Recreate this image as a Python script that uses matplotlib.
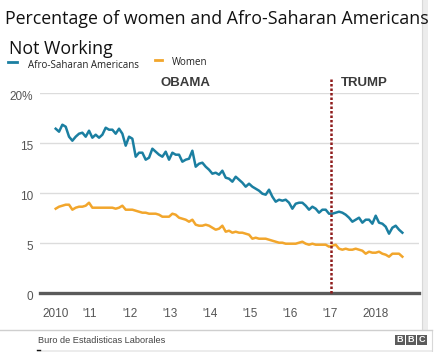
import matplotlib
matplotlib.use("Agg")
import matplotlib.pyplot as plt
import matplotlib.transforms as mtransforms
from matplotlib.lines import Line2D
from matplotlib.patches import Rectangle
import pandas as pd

# ---------------- data ----------------
months = pd.date_range("2010-02-01", periods=105, freq="MS")
afro = [16.4, 16.1, 16.8, 16.6, 15.6, 15.2, 15.6, 15.9, 16.0, 15.6,
        16.2, 15.5, 15.8, 15.5, 15.8, 16.5, 16.3, 16.3, 15.9, 16.4,
        15.9, 14.7, 15.6, 15.4, 13.6, 14.0, 14.0, 13.3, 13.5, 14.4,
        14.1, 13.8, 13.6, 14.1, 13.3, 14.0, 13.8, 13.8, 13.1, 13.3,
        13.4, 14.2, 12.6, 12.9, 13.0, 12.6, 12.3, 11.9, 12.0, 11.8,
        12.2, 11.5, 11.4, 11.1, 11.6, 11.3, 11.0, 10.6, 10.9, 10.6,
        10.4, 10.2, 9.9, 9.8, 10.3, 9.6, 9.1, 9.3, 9.2, 9.3,
        9.0, 8.4, 8.9, 9.0, 9.0, 8.7, 8.3, 8.6, 8.4, 8.0,
        8.3, 8.3, 7.9, 7.9, 8.0, 8.1, 8.0, 7.8, 7.5, 7.1,
        7.3, 7.5, 7.0, 7.3, 7.3, 6.9, 7.7, 7.0, 6.9, 6.6,
        5.9, 6.5, 6.7, 6.3, 6.0]
women = [8.4, 8.6, 8.7, 8.8, 8.8, 8.3, 8.5, 8.6, 8.6, 8.7,
         9.0, 8.5, 8.5, 8.5, 8.5, 8.5, 8.5, 8.5, 8.4, 8.5,
         8.7, 8.3, 8.3, 8.3, 8.2, 8.1, 8.0, 8.0, 7.9, 7.9,
         7.9, 7.8, 7.6, 7.6, 7.6, 7.9, 7.8, 7.5, 7.4, 7.3,
         7.1, 7.3, 6.8, 6.7, 6.7, 6.8, 6.7, 6.5, 6.3, 6.4,
         6.7, 6.1, 6.2, 6.0, 6.1, 6.0, 6.0, 5.9, 5.8, 5.4,
         5.5, 5.4, 5.4, 5.4, 5.3, 5.2, 5.1, 5.0, 5.0, 4.9,
         4.9, 4.9, 4.9, 5.0, 5.1, 4.9, 4.8, 4.9, 4.8, 4.8,
         4.8, 4.8, 4.6, 4.7, 4.8, 4.4, 4.3, 4.4, 4.3, 4.3,
         4.4, 4.3, 4.2, 3.9, 4.1, 4.0, 4.0, 4.1, 3.9, 3.8,
         3.6, 3.9, 3.9, 3.9, 3.6]
year_ticks = [2010, 2011, 2012, 2013, 2014, 2015, 2016, 2017, 2018]
year_labels = ["2010", "'11", "'12", "'13", "'14", "'15", "'16", "'17", "2018"]
y_ticks = [0, 5, 10, 15, 20]
y_labels = ["0", "5", "10", "15", "20%"]
trump_start = 2017.0
series_names = ["Afro-Saharan Americans", "Women"]

BLUE = "#1b7fa1"
ORANGE = "#f2a62c"

x = [d.year + (d.month - 0.5) / 12 for d in months]

W, H = 435, 352
fig = plt.figure(figsize=(W / 100, H / 100), dpi=100)
fig.patch.set_facecolor("white")

def fx(px):
    return px / W

def fy(py):
    return 1 - py / H

ax = fig.add_axes([fx(40), fy(292.7), fx(419) - fx(40), fy(92.7) - fy(292.7)])
ax.set_xlim(2009.7325, 2019.2075)
ax.set_ylim(0, 20)
for s in ax.spines.values():
    s.set_visible(False)
ax.set_facecolor("none")

ax.set_yticks(y_ticks)
ax.set_yticklabels(y_labels)
ax.grid(axis="y", color="#dcdcdc", lw=1.0)
ax.set_axisbelow(True)
ax.axhline(0, color="#5a5a5a", lw=2.4, zorder=2, clip_on=False)

ax.set_xticks(year_ticks)
ax.set_xticklabels(year_labels)
ax.tick_params(axis="both", length=0, labelsize=8.5, labelcolor="#555555")
ax.tick_params(axis="y", pad=5)
ax.tick_params(axis="x", pad=11)
for lab in ax.get_yticklabels():
    lab.set_fontfamily("Liberation Sans")
    lab.set_transform(lab.get_transform() +
                      mtransforms.ScaledTranslation(0, -2.5 / 100, fig.dpi_scale_trans))
for lab in ax.get_xticklabels():
    lab.set_fontfamily("Liberation Sans")
    lab.set_horizontalalignment("left")
    lab.set_transform(lab.get_transform() +
                      mtransforms.ScaledTranslation(-8 / 100, 0, fig.dpi_scale_trans))

ax.plot(x, afro, color=BLUE, lw=1.8, zorder=3, solid_joinstyle="round")
ax.plot(x, women, color=ORANGE, lw=1.8, zorder=3, solid_joinstyle="round")

ax.axvline(trump_start, ymin=0, ymax=1.078, color="#8e1b1b", lw=1.8,
           linestyle=(0, (1, 0.8)), clip_on=False, zorder=4)

ax.text(2013.38, 21.0, "OBAMA", ha="center", va="center", fontsize=9.5,
        fontweight="bold", color="#3a3a3a", family="Liberation Sans")
ax.text(2017.83, 21.0, "TRUMP", ha="center", va="center", fontsize=9.5,
        fontweight="bold", color="#3a3a3a", family="Liberation Sans")

# titles
fig.text(fx(5), fy(23.5), "Percentage of women and Afro-Saharan Americans",
         ha="left", va="baseline", fontsize=12.8, color="#111111", family="Open Sans")
fig.text(fx(9.5), fy(54.5), "Not Working", ha="left", va="baseline",
         fontsize=12.8, color="#111111", family="Open Sans")

# legend
fig.add_artist(Line2D([fx(8), fx(17)], [fy(61.5), fy(61.5)], color=BLUE, lw=2))
fig.text(fx(28), fy(66), series_names[0], ha="left", va="center",
         fontsize=7, color="#222222", family="Open Sans")
fig.add_artist(Line2D([fx(155), fx(162)], [fy(60), fy(60)], color=ORANGE, lw=2))
fig.text(fx(172), fy(62.5), series_names[1], ha="left", va="center",
         fontsize=7, color="#222222", family="Open Sans")

# right border strip (above footer)
fig.add_artist(Rectangle((fx(422), fy(330)), fx(6), 1 - fy(330), transform=fig.transFigure,
                         color="#ececec", lw=0))
fig.add_artist(Line2D([fx(422.5), fx(422.5)], [fy(330), 1], color="#d8d8d8", lw=0.8))
fig.add_artist(Line2D([fx(432), fx(432)], [0, fy(330)], color="#d8d8d8", lw=0.8))

# footer
fig.add_artist(Line2D([0, fx(432)], [fy(330), fy(330)], color="#cfcfcf", lw=1))
fig.text(fx(38), fy(340.5), "Buro de Estadisticas Laborales", ha="left", va="center",
         fontsize=6.6, color="#444444", family="Liberation Sans")
for i, ch in enumerate("BBC"):
    x0 = 395 + i * 11
    fig.add_artist(Rectangle((fx(x0), fy(344.5)), fx(10), fy(335) - fy(344.5),
                             transform=fig.transFigure, color="#5c5c5c", lw=0))
    fig.text(fx(x0 + 5), fy(339.8), ch, ha="center", va="center", fontsize=6.5,
             fontweight="bold", color="white", family="Liberation Sans")

fig.add_artist(Rectangle((fx(37), 0), fx(395), fy(349.5), transform=fig.transFigure,
                         color="#ececec", lw=0))
fig.add_artist(Line2D([fx(37), fx(40)], [fy(349.5), fy(349.5)], color="#111111", lw=1))

fig.savefig("out.png", dpi=100, facecolor="white")
